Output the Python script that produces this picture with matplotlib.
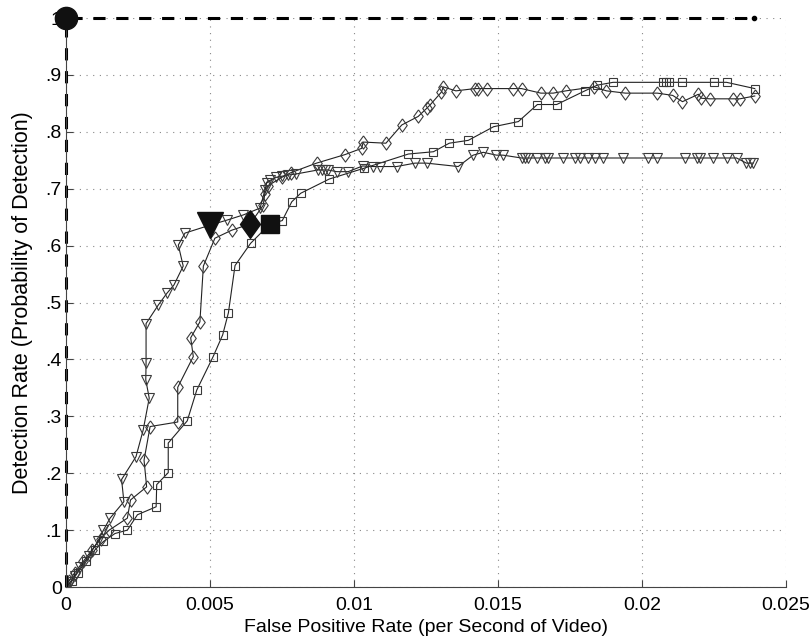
import matplotlib
matplotlib.use("Agg")
import matplotlib.pyplot as plt

# triangle (v) curve
tri_x = [0, 0.0001, 0.0003, 0.0005, 0.0008, 0.0011, 0.0013, 0.00153, 0.00201, 0.00193,
         0.00243, 0.00268, 0.00289, 0.00277, 0.00278, 0.00278, 0.00321, 0.00350, 0.00375,
         0.00407, 0.00390, 0.00413, 0.0050, 0.0056, 0.00616, 0.00674, 0.00691, 0.00697,
         0.0071, 0.0073, 0.0075, 0.0077, 0.0080, 0.00875, 0.0089, 0.0090, 0.0091, 0.0094,
         0.0098, 0.0103, 0.01066, 0.0109, 0.01148, 0.01212, 0.01252, 0.01362, 0.01414,
         0.01449, 0.01495, 0.01518, 0.01582, 0.01594, 0.01605, 0.01634, 0.01663, 0.01675,
         0.01727, 0.01767, 0.01785, 0.01814, 0.01837, 0.01866, 0.01935, 0.02022, 0.02051,
         0.02149, 0.0219, 0.02201, 0.02248, 0.02294, 0.02329, 0.02363, 0.02375, 0.02386]
tri_y = [0, 0.005, 0.02, 0.035, 0.055, 0.08, 0.1, 0.121, 0.150, 0.189,
         0.229, 0.276, 0.332, 0.364, 0.393, 0.463, 0.496, 0.516, 0.531,
         0.564, 0.601, 0.622, 0.636, 0.645, 0.654, 0.666, 0.698, 0.71,
         0.715, 0.72, 0.722, 0.724, 0.726, 0.733, 0.733, 0.733, 0.733, 0.730,
         0.730, 0.740, 0.739, 0.739, 0.739, 0.745, 0.745, 0.739, 0.759,
         0.764, 0.759, 0.759, 0.754, 0.754, 0.754, 0.754, 0.754, 0.754,
         0.754, 0.754, 0.754, 0.754, 0.754, 0.754, 0.754, 0.754, 0.754,
         0.754, 0.754, 0.754, 0.754, 0.754, 0.754, 0.745, 0.745, 0.745]

# diamond curve
dia_x = [0, 0.0001, 0.0003, 0.0006, 0.0009, 0.0012, 0.0015, 0.00213, 0.00224, 0.0028,
         0.00271, 0.00292, 0.00388, 0.00388, 0.00442, 0.00433, 0.00465, 0.00477, 0.00517,
         0.00575, 0.00639, 0.00685, 0.0069, 0.0070, 0.0075, 0.0078, 0.0087, 0.00969,
         0.01027, 0.01032, 0.01111, 0.01166, 0.01223, 0.01252, 0.01264, 0.01304, 0.0131,
         0.01354, 0.0142, 0.01432, 0.01461, 0.01553, 0.01582, 0.01649, 0.01692, 0.01736,
         0.01834, 0.01877, 0.01943, 0.02054, 0.02107, 0.02141, 0.02196, 0.02207, 0.02236,
         0.02317, 0.0234, 0.02392]
dia_y = [0, 0.01, 0.025, 0.045, 0.065, 0.085, 0.1, 0.121, 0.153, 0.176,
         0.223, 0.282, 0.29, 0.351, 0.405, 0.438, 0.466, 0.564, 0.613,
         0.627, 0.638, 0.671, 0.69, 0.705, 0.72, 0.728, 0.745, 0.760,
         0.771, 0.782, 0.78, 0.812, 0.827, 0.841, 0.847, 0.870, 0.879,
         0.872, 0.876, 0.876, 0.876, 0.876, 0.876, 0.868, 0.868, 0.872,
         0.879, 0.872, 0.868, 0.868, 0.864, 0.853, 0.866, 0.859, 0.858,
         0.858, 0.858, 0.863]

# square curve
sq_x = [0, 0.0002, 0.0004, 0.0007, 0.0010, 0.0013, 0.0017, 0.00213, 0.00248, 0.00313,
        0.00315, 0.00355, 0.00355, 0.00421, 0.00454, 0.00511, 0.00544, 0.00564, 0.00587,
        0.00641, 0.00708, 0.00751, 0.00784, 0.00815, 0.00914, 0.01035, 0.01189, 0.01276,
        0.01331, 0.01397, 0.01485, 0.01571, 0.01637, 0.01704, 0.01802, 0.01845, 0.019,
        0.02072, 0.02083, 0.02095, 0.02141, 0.02251, 0.02294, 0.02392]
sq_y = [0, 0.01, 0.025, 0.045, 0.065, 0.08, 0.094, 0.1, 0.127, 0.141,
        0.18, 0.201, 0.253, 0.292, 0.346, 0.405, 0.443, 0.482, 0.565,
        0.604, 0.638, 0.644, 0.677, 0.692, 0.717, 0.736, 0.761, 0.765,
        0.78, 0.785, 0.809, 0.818, 0.848, 0.848, 0.872, 0.882, 0.887,
        0.887, 0.887, 0.887, 0.887, 0.887, 0.887, 0.876]

# operating points (big filled markers)
op_tri = (0.0050, 0.636)
op_dia = (0.00639, 0.638)
op_sq = (0.00708, 0.638)

# ideal detector
ideal_x = [0, 0, 0.0239]
ideal_y = [0, 1, 1]

xticks = [0, 0.005, 0.01, 0.015, 0.02, 0.025]
xtick_labels = ["0", "0.005", "0.01", "0.015", "0.02", "0.025"]
yticks = [0, 0.1, 0.2, 0.3, 0.4, 0.5, 0.6, 0.7, 0.8, 0.9, 1.0]
ytick_labels = ["0", ".1", ".2", ".3", ".4", ".5", ".6", ".7", ".8", ".9", "1"]

plt.rcParams["font.family"] = ["Liberation Sans", "DejaVu Sans"]

# matlab-style diamond, a bit taller than wide
tall_diamond = [(0, 1), (0.72, 0), (0, -1), (-0.72, 0), (0, 1)]

fig = plt.figure(figsize=(8.11, 6.44), dpi=100)
ax = fig.add_axes([0.0814, 0.0885, 0.8876, 0.8835])

line_kw = dict(color="#222222", lw=0.8, markerfacecolor="none",
               markeredgecolor="#3a3a3a", markeredgewidth=0.8)
ax.plot(sq_x, sq_y, marker="s", markersize=6.3, **line_kw)
ax.plot(dia_x, dia_y, marker=tall_diamond, markersize=9.5, **line_kw)
ax.plot(tri_x, tri_y, marker="v", markersize=7.5, **line_kw)

ax.plot(ideal_x, ideal_y, color="black", lw=2.2, linestyle=(0, (4, 3.5)), clip_on=False)
ax.plot(ideal_x[-1:], ideal_y[-1:], marker="o", markersize=3, color="black", clip_on=False)
ax.plot(ideal_x[1], ideal_y[1], marker="o", markersize=16, color="#111111", clip_on=False, zorder=5)

ax.plot(*op_tri, marker="v", markersize=19, color="#111111", zorder=5)
ax.plot(*op_dia, marker=tall_diamond, markersize=20, color="#111111", zorder=5)
ax.plot(*op_sq, marker="s", markersize=13, color="#111111", zorder=5)

ax.set_xlim(0, 0.025)
ax.set_ylim(0, 1)
ax.set_xticks(xticks)
ax.set_xticklabels(xtick_labels)
ax.set_yticks(yticks)
ax.set_yticklabels(ytick_labels)
ax.tick_params(direction="in", length=5, width=0.8, labelsize=14, color="#444444")
ax.tick_params(axis="x", pad=7)
ax.tick_params(axis="y", pad=3)

for side in ["top", "right"]:
    ax.spines[side].set_visible(False)
for side in ["left", "bottom"]:
    ax.spines[side].set_linewidth(0.8)
    ax.spines[side].set_color("#444444")

ax.grid(True, color="#888888", linestyle=(0, (1, 5)), linewidth=0.8)
ax.set_axisbelow(True)

ax.set_xlabel("False Positive Rate (per Second of Video)", fontsize=14, labelpad=4)
ax.set_ylabel("Detection Rate (Probability of Detection)", fontsize=15.5, labelpad=9)

fig.savefig("out.png", dpi=100)
